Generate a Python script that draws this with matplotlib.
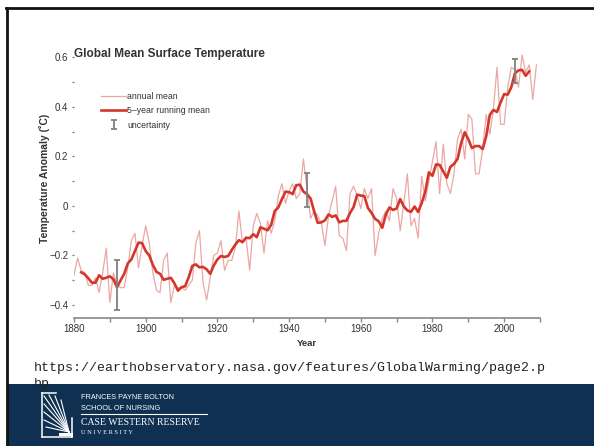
import matplotlib
matplotlib.use("Agg")
import matplotlib.pyplot as plt
from matplotlib.lines import Line2D
from matplotlib.patches import Rectangle

plt.rcParams["font.family"] = ["Liberation Sans", "DejaVu Sans"]

# ---------------------------------------------------------------- data
years = list(range(1880, 2010))

# annual global mean temperature anomaly (deg C)
annual_mean = [
    -0.28, -0.21, -0.26, -0.27, -0.32, -0.32, -0.29, -0.35, -0.27, -0.17,  # 1880s
    -0.39, -0.27, -0.32, -0.33, -0.33, -0.25, -0.14, -0.11, -0.25, -0.16,  # 1890s
    -0.08, -0.15, -0.27, -0.34, -0.35, -0.22, -0.19, -0.39, -0.32, -0.33,  # 1900s
    -0.33, -0.34, -0.32, -0.30, -0.15, -0.10, -0.31, -0.38, -0.29, -0.20,  # 1910s
    -0.19, -0.14, -0.26, -0.22, -0.22, -0.17, -0.02, -0.15, -0.13, -0.26,  # 1920s
    -0.08, -0.03, -0.07, -0.19, -0.06, -0.11, -0.06, 0.04, 0.09, 0.01,     # 1930s
    0.06, 0.09, 0.03, 0.05, 0.19, 0.07, -0.05, -0.02, -0.04, -0.07,        # 1940s
    -0.16, -0.04, 0.02, 0.08, -0.12, -0.13, -0.18, 0.05, 0.08, 0.04,       # 1950s
    -0.01, 0.07, 0.03, 0.07, -0.20, -0.11, -0.05, -0.02, -0.06, 0.07,      # 1960s
    0.03, -0.10, 0.01, 0.13, -0.08, -0.05, -0.13, 0.12, 0.02, 0.10,        # 1970s
    0.18, 0.26, 0.05, 0.25, 0.09, 0.05, 0.13, 0.27, 0.31, 0.19,            # 1980s
    0.37, 0.35, 0.13, 0.13, 0.23, 0.37, 0.29, 0.39, 0.56, 0.33,            # 1990s
    0.33, 0.48, 0.56, 0.55, 0.48, 0.61, 0.54, 0.57, 0.43, 0.57,            # 2000s
]

# centred five-year running mean, 1882-2007
running_years = list(range(1882, 2008))
running_mean = [
    -0.268, -0.276, -0.292, -0.310, -0.310, -0.280, -0.294, -0.290,                  # 1882-89
    -0.284, -0.296, -0.328, -0.300, -0.274, -0.232, -0.216, -0.182, -0.148, -0.150,  # 1890s
    -0.182, -0.200, -0.238, -0.266, -0.274, -0.298, -0.294, -0.290, -0.312, -0.342,  # 1900s
    -0.328, -0.324, -0.288, -0.242, -0.236, -0.248, -0.246, -0.256, -0.274, -0.240,  # 1910s
    -0.216, -0.202, -0.206, -0.202, -0.178, -0.156, -0.138, -0.146, -0.128, -0.130,  # 1920s
    -0.114, -0.126, -0.086, -0.092, -0.098, -0.076, -0.020, -0.006, 0.028, 0.058,    # 1930s
    0.056, 0.048, 0.084, 0.086, 0.058, 0.048, 0.030, -0.022, -0.068, -0.066,         # 1940s
    -0.058, -0.034, -0.044, -0.038, -0.066, -0.060, -0.060, -0.028, -0.004, 0.046,   # 1950s
    0.042, 0.040, -0.008, -0.028, -0.052, -0.062, -0.088, -0.034, -0.006, -0.016,    # 1960s
    -0.010, 0.028, -0.002, -0.018, -0.024, -0.002, -0.024, 0.012, 0.058, 0.136,      # 1970s
    0.122, 0.168, 0.166, 0.140, 0.114, 0.158, 0.170, 0.190, 0.254, 0.298,            # 1980s
    0.270, 0.234, 0.242, 0.242, 0.230, 0.282, 0.368, 0.388, 0.380, 0.418,            # 1990s
    0.452, 0.450, 0.480, 0.536, 0.548, 0.550, 0.526, 0.544,                          # 2000-07
]

# uncertainty bars
unc_years = [1892, 1945, 2003]
unc_center = [-0.32, 0.065, 0.545]
unc_half = [0.10, 0.07, 0.05]

xtick_major = [1880, 1900, 1920, 1940, 1960, 1980, 2000]
xtick_minor = [1890, 1910, 1930, 1950, 1970, 1990, 2010]
ytick_major = [-0.4, -0.2, 0.0, 0.2, 0.4, 0.6]
ytick_labels = ["\u22120.4", "\u22120.2", "0", "0.2", "0.4", "0.6"]
ytick_minor = [-0.3, -0.1, 0.1, 0.3, 0.5]

title = "Global Mean Surface Temperature"
y_title = "Temperature Anomaly (\u02daC)"
x_title = "Year"
source_url = "https://earthobservatory.nasa.gov/features/GlobalWarming/page2.php"

# ---------------------------------------------------------------- figure
W, H = 594, 446
fig = plt.figure(figsize=(W / 100, H / 100), dpi=100)
fig.patch.set_facecolor("white")


def fx(px):
    return px / W


def fy(py):
    return 1 - py / H


# slide frame and footer band
fig.add_artist(Rectangle((fx(7.5), 0), 1 - fx(7.5), fy(383.5),
                         transform=fig.transFigure, facecolor="#0f3050",
                         edgecolor="none", zorder=0))
fig.add_artist(Line2D([fx(6.5), fx(6.5)], [fy(7.5), 0], color="#111111", lw=2.0))
fig.add_artist(Line2D([fx(5.5), 1], [fy(8.3), fy(8.3)], color="#111111", lw=2.0))

# ---------------------------------------------------------------- chart
ax = fig.add_axes([fx(74), fy(318), fx(540) - fx(74), (318 - 45.1) / H])
ax.set_xlim(1880, 2010)
ax.set_ylim(-0.4525, 0.65)
ax.patch.set_alpha(0)

l_annual, = ax.plot(years, annual_mean, color="#eca7a4", lw=0.9,
                    label="annual mean", zorder=2)
l_run, = ax.plot(running_years, running_mean, color="#d3372c", lw=1.9,
                 label="5\u2013year running mean", zorder=3,
                 solid_joinstyle="round")
eb = ax.errorbar(unc_years, unc_center, yerr=unc_half, fmt="none",
                 ecolor="#808080", elinewidth=1.3, capsize=2.4, capthick=1.3,
                 label="uncertainty", zorder=4)

for side in ("left", "top", "right"):
    ax.spines[side].set_visible(False)
ax.spines["bottom"].set_color("#888888")
ax.spines["bottom"].set_linewidth(1.2)

ax.set_xticks(xtick_major)
ax.set_xticks(xtick_minor, minor=True)
ax.set_yticks(ytick_major, labels=ytick_labels)
ax.set_yticks(ytick_minor, minor=True)
ax.tick_params(axis="x", which="both", direction="out", length=3, width=1,
               color="#888888", pad=1, labelsize=7.0, labelcolor="#333333")
ax.tick_params(axis="y", which="both", direction="out", length=1.8, width=0.9,
               color="#777777", pad=2.4, labelsize=7.0, labelcolor="#333333")

ax.set_xlabel(x_title, fontsize=6.8, fontweight="bold", color="#333333",
              labelpad=4)

ax.legend(handles=[l_annual, l_run, eb], loc="upper left",
          bbox_to_anchor=(0.059, 0.828), frameon=False, fontsize=6.3,
          handlelength=2.85, handletextpad=0.12, labelspacing=0.6,
          borderpad=0, borderaxespad=0, labelcolor="#333333")

fig.text(fx(44.5), fy(178.5), y_title, rotation=90, ha="center",
         va="center", fontsize=7.5, fontweight="bold", color="#333333")
fig.text(fx(74.5), fy(56.5), title, ha="left", va="baseline",
         fontsize=8.5, fontweight="bold", color="#333333")

# ---------------------------------------------------------------- source line
mono = ["Liberation Mono", "DejaVu Sans Mono"]
fig.text(fx(34), fy(371.5), source_url[:64], family=mono, fontsize=9.5,
         color="#222222", va="baseline")
fig.text(fx(34), fy(387.5), source_url[64:], family=mono, fontsize=9.5,
         color="#222222", va="baseline", zorder=5)

# ---------------------------------------------------------------- footer logo
lw = 1.1
logo = [
    ([41.5, 41.5], [393, 437]),
    ([41.5, 72], [437, 437]),
    ([41.5, 56], [393, 393]),
    ([72, 72], [437, 418]),
]
for xs, ys in logo:
    fig.add_artist(Line2D([fx(v) for v in xs], [fy(v) for v in ys],
                          color="white", lw=lw))
rays_end = [(44, 396), (49, 395), (55, 396), (61, 400), (44, 404),
            (44, 412), (44, 420), (46, 427)]
for ex, ey in rays_end:
    fig.add_artist(Line2D([fx(69), fx(ex)], [fy(432), fy(ey)],
                          color="white", lw=0.8))
fig.add_artist(Line2D([fx(60), fx(71)], [fy(433.5), fy(433.5)],
                      color="white", lw=2.2))

fig.text(fx(81), fy(399), "FRANCES PAYNE BOLTON", color="white",
         fontsize=5.3, va="baseline")
fig.text(fx(81), fy(410), "SCHOOL OF NURSING", color="white",
         fontsize=5.3, va="baseline")
fig.add_artist(Line2D([fx(81), fx(207)], [fy(414), fy(414)], color="white",
                      lw=0.8))
fig.text(fx(81), fy(425), "CASE WESTERN RESERVE", color="white",
         family=["Liberation Serif", "DejaVu Serif"], fontsize=7.0,
         va="baseline")
fig.text(fx(81), fy(433.5), "U N I V E R S I T Y", color="white",
         family=["Liberation Serif", "DejaVu Serif"], fontsize=4.6,
         va="baseline")

fig.savefig("out.png", dpi=100, facecolor=fig.get_facecolor())
